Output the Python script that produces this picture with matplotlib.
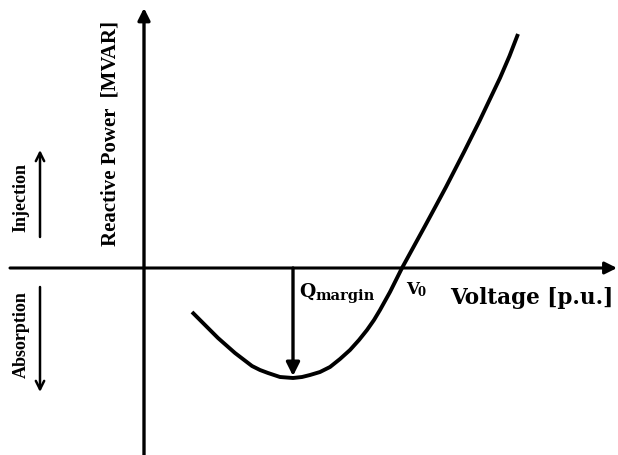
#---------------------------------------------------------------------------------------------------------------------------
# Reactive power vs voltage (Q-V) curve with Q margin
#---------------------------------------------------------------------------------------------------------------------------
import matplotlib
matplotlib.use('Agg')
import matplotlib.pyplot as plt
import numpy as np
#---------------------------------------------------------------------------------------------------------------------------
# Q-V curve, origin at the axes crossing (x: voltage, y: reactive power)
curve_v = [48, 61, 74, 91, 108, 116, 124, 136, 149, 158, 166, 176, 186, 196, 206, 215, 223, 230,
           236, 246, 252, 258, 269.5, 281, 291.8, 302, 320, 335.5, 345.5, 356, 365.5, 374]
curve_q = [-44, -57, -70, -85, -98, -102, -105, -109, -110, -109, -107, -104, -99, -91, -82, -72, -62, -52,
           -42, -24, -12, 0, 21, 42, 62, 81, 116, 147, 168, 190, 212, 234]

# Q margin: voltage at the curve minimum, depth of the minimum
q_margin_v = 149
q_margin_q = -109

# Operating voltage where Q = 0
v0 = 258
#---------------------------------------------------------------------------------------------------------------------------
plt.figure(figsize=(6.18, 4.55), dpi=100)
ax = plt.axes([0, 0, 1, 1])
ax.set_xlim(-144, 474)
ax.set_ylim(-187, 268)
ax.axis('off')

serif = 'Liberation Serif'
wide = 'DejaVu Serif'

# Axes with filled arrow heads
ax.annotate('', xy=(473, 0), xytext=(-134, 0),
            arrowprops=dict(arrowstyle='-|>', color='black', lw=2.2, mutation_scale=18, shrinkA=0, shrinkB=0))
ax.annotate('', xy=(0, 260), xytext=(0, -190),
            arrowprops=dict(arrowstyle='-|>', color='black', lw=2.4, mutation_scale=18, shrinkA=0, shrinkB=0))

# The curve
ax.plot(curve_v, curve_q, color='black', lw=2.8, solid_capstyle='butt', solid_joinstyle='round')

# Q margin arrow
ax.annotate('', xy=(q_margin_v, q_margin_q + 1), xytext=(q_margin_v, 0),
            arrowprops=dict(arrowstyle='-|>', color='black', lw=2.4, mutation_scale=20, shrinkA=0, shrinkB=0))

# Labels
ax.text(q_margin_v + 6, -24, 'Q', fontsize=13.5, fontweight='bold', family=wide, ha='left', va='center')
ax.text(q_margin_v + 22, -28, 'margin', fontsize=10.5, fontweight='bold', family=wide, ha='left', va='center')
ax.text(v0 + 4, -21, 'V', fontsize=12, fontweight='bold', family=wide, ha='left', va='center')
ax.text(v0 + 16, -25, '0', fontsize=8.5, fontweight='bold', family=wide, ha='left', va='center')
ax.text(306, -30, 'Voltage [p.u.]', fontsize=15.5, fontweight='bold', family=wide, ha='left', va='center')

ax.text(-34, 135, 'Reactive Power  [MVAR]', fontsize=15, fontweight='bold', family=serif,
        rotation=90, ha='center', va='center')
ax.text(-123, 70, 'Injection', fontsize=13, fontweight='bold', family=serif,
        rotation=90, ha='center', va='center')
ax.text(-123, -67, 'Absorption', fontsize=13, fontweight='bold', family=serif,
        rotation=90, ha='center', va='center')

# Injection / absorption direction arrows
ax.annotate('', xy=(-104, 118), xytext=(-104, 31),
            arrowprops=dict(arrowstyle='->', color='black', lw=1.8, mutation_scale=15, shrinkA=0, shrinkB=0))
ax.annotate('', xy=(-104, -124), xytext=(-104, -19),
            arrowprops=dict(arrowstyle='->', color='black', lw=1.8, mutation_scale=15, shrinkA=0, shrinkB=0))

plt.savefig('out.png', dpi=100)
